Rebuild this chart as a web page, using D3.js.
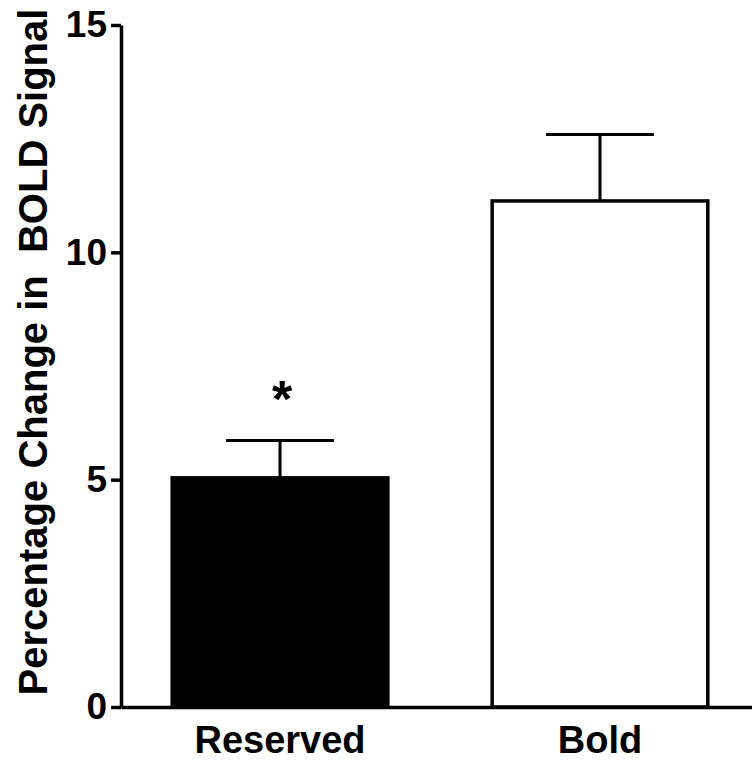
<!DOCTYPE html>
<html>
<head>
<meta charset="utf-8">
<script src="https://cdn.jsdelivr.net/npm/d3@7"></script>
<style>
  body { margin: 0; background: #fff; }
  svg { display: block; font-family: "Liberation Sans", Arial, sans-serif; font-weight: bold; }
</style>
</head>
<body>
<script>
// data
const groups = ["Reserved", "Bold"]
const means = [5.04, 11.13]
const sems = [0.82, 1.46]
const fills = ["#000", "#fff"]
const marks = ["*", ""]
const yTicks = [0, 5, 10, 15]

const width = 752, height = 762
const margin = {top: 25, right: -7, bottom: 55, left: 121}

const svg = d3.select("body").append("svg")
    .attr("width", width)
    .attr("height", height)

const y = d3.scaleLinear()
    .domain([0, 15])
    .range([height - margin.bottom, margin.top])

const x = d3.scaleBand()
    .domain(groups)
    .range([margin.left, width - margin.right])
    .paddingInner(0.326)
    .paddingOuter(0.16)

const data = groups.map((g, i) => ({g: g, mean: means[i], sem: sems[i], fill: fills[i], mark: marks[i]}))

// bars
svg.selectAll("rect.bar")
    .data(data)
    .enter()
    .append("rect")
    .attr("class", "bar")
    .attr("x", d => x(d.g))
    .attr("y", d => y(d.mean))
    .attr("width", x.bandwidth())
    .attr("height", d => y(0) - y(d.mean))
    .attr("fill", d => d.fill)
    .attr("stroke", "#000")
    .attr("stroke-width", 3.5)

// error bars (upper only)
const err = svg.selectAll("g.err")
    .data(data)
    .enter()
    .append("g")
    .attr("class", "err")
    .attr("stroke", "#000")
    .attr("stroke-width", 3)

err.append("line")
    .attr("x1", d => x(d.g) + x.bandwidth() / 2)
    .attr("x2", d => x(d.g) + x.bandwidth() / 2)
    .attr("y1", d => y(d.mean))
    .attr("y2", d => y(d.mean + d.sem))

err.append("line")
    .attr("x1", d => x(d.g) + x.bandwidth() * 0.25)
    .attr("x2", d => x(d.g) + x.bandwidth() * 0.75)
    .attr("y1", d => y(d.mean + d.sem))
    .attr("y2", d => y(d.mean + d.sem))

// significance star
svg.selectAll("text.star")
    .data(data)
    .enter()
    .append("text")
    .attr("class", "star")
    .attr("x", d => x(d.g) + x.bandwidth() / 2 + 2)
    .attr("y", d => y(d.mean + d.sem) - 24)
    .attr("text-anchor", "middle")
    .attr("font-size", 52)
    .text(d => d.mark)

// y axis
const yAxis = svg.append("g")
    .attr("transform", "translate(" + margin.left + ",0)")
    .call(d3.axisLeft(y).tickValues(yTicks).tickSize(10).tickSizeOuter(0).tickPadding(4))

yAxis.select(".domain").attr("stroke-width", 3.5)
yAxis.selectAll(".tick line").attr("stroke-width", 3.5)
yAxis.selectAll(".tick text")
    .attr("font-size", 37)
    .attr("font-family", "Liberation Sans, Arial, sans-serif")
    .attr("font-weight", "bold")
    .attr("fill", "#000")

// x axis
const xAxis = svg.append("g")
    .attr("transform", "translate(0," + y(0) + ")")
    .call(d3.axisBottom(x).tickSize(0).tickSizeOuter(0).tickPadding(19))

xAxis.select(".domain").attr("stroke-width", 3.5)
xAxis.selectAll(".tick text")
    .attr("font-size", 38)
    .attr("font-family", "Liberation Sans, Arial, sans-serif")
    .attr("font-weight", "bold")
    .attr("fill", "#000")

// y label
svg.append("text")
    .attr("transform", "translate(47," + 352 + ") rotate(-90)")
    .attr("text-anchor", "middle")
    .attr("font-size", 40)
    .attr("xml:space", "preserve")
    .style("white-space", "pre")
    .text("Percentage Change in  BOLD Signal")
</script>
</body>
</html>
